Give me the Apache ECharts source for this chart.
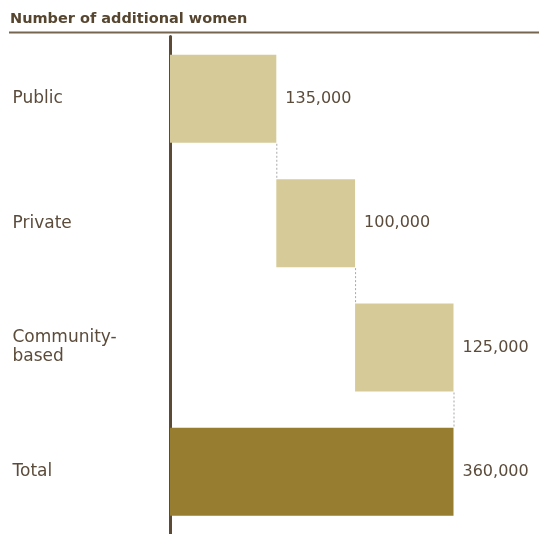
<!DOCTYPE html>
<html>
<head>
<meta charset="utf-8">
<script src="https://cdn.jsdelivr.net/npm/echarts@6/dist/echarts.min.js"></script>
<style>
  html, body { margin: 0; padding: 0; background: #fff; }
  #chart { width: 539px; height: 534px; }
</style>
</head>
<body>
<div id="chart"></div>
<script>
// Additional women reached, by provider type (waterfall)
const categories = ['Public', 'Private', 'Community-\nbased', 'Total'];
const values = [135000, 100000, 125000, 360000];
const isTotal = [false, false, false, true];

// Invisible base of each floating bar: running sum of the earlier steps
const bases = [];
let running = 0;
values.forEach((v, i) => {
  if (isTotal[i]) { bases.push(0); }
  else { bases.push(running); running += v; }
});

// Dashed connectors: [x value, category index of the upper bar]
const connectors = [];
for (let i = 0; i < values.length - 1; i++) {
  connectors.push([bases[i] + values[i], i]);
}

const TEXT = '#5b4b3a';
const FONT = '"DejaVu Sans", sans-serif';
const BAR_H = 88;

const chart = echarts.init(document.getElementById('chart'), null, { renderer: 'canvas' });

chart.setOption({
  animation: false,
  backgroundColor: '#ffffff',
  title: {
    text: 'Number of additional women',
    left: 5,
    top: 7,
    textStyle: { fontFamily: FONT, fontSize: 14.5, fontWeight: 'bold', color: '#56452f' }
  },
  graphic: [{
    type: 'line',
    shape: { x1: 9, y1: 32.5, x2: 539, y2: 32.5 },
    style: { stroke: '#76664f', lineWidth: 2 }
  }],
  grid: { left: 170, right: 85.5, top: 36.6, height: 499.2 },
  xAxis: {
    type: 'value', min: 0, max: 360000, show: false
  },
  yAxis: {
    type: 'category',
    data: categories,
    inverse: true,
    offset: 1.5,
    axisLine: { show: true, lineStyle: { color: '#5c4a35', width: 3 } },
    axisTick: { show: false },
    axisLabel: {
      align: 'left', margin: 156,
      fontFamily: FONT, fontSize: 17, color: TEXT, lineHeight: 19
    },
    splitLine: { show: false }
  },
  series: [
    {
      type: 'bar', stack: 'w', barWidth: BAR_H,
      data: bases,
      itemStyle: { color: 'transparent' },
      silent: true
    },
    {
      type: 'bar', stack: 'w', barWidth: BAR_H,
      data: values.map((v, i) => ({
        value: v,
        itemStyle: { color: isTotal[i] ? '#967d30' : '#d6cb98' }
      })),
      label: {
        show: true, position: 'right', distance: 9,
        fontFamily: FONT, fontSize: 16, color: TEXT,
        formatter: p => p.value.toLocaleString('en-US')
      }
    },
    {
      type: 'custom',
      data: connectors,
      encode: { x: 0, y: 1 },
      renderItem: (params, api) => {
        const p = api.coord([api.value(0), api.value(1)]);
        const band = api.size([0, 1])[1];
        return {
          type: 'line',
          shape: { x1: p[0] + 0.5, y1: p[1] + BAR_H / 2 + 1, x2: p[0] + 0.5, y2: p[1] + band - BAR_H / 2 - 1 },
          style: { stroke: '#a8a8a8', lineWidth: 1, lineDash: [2, 2] }
        };
      }
    }
  ]
});
</script>
</body>
</html>
